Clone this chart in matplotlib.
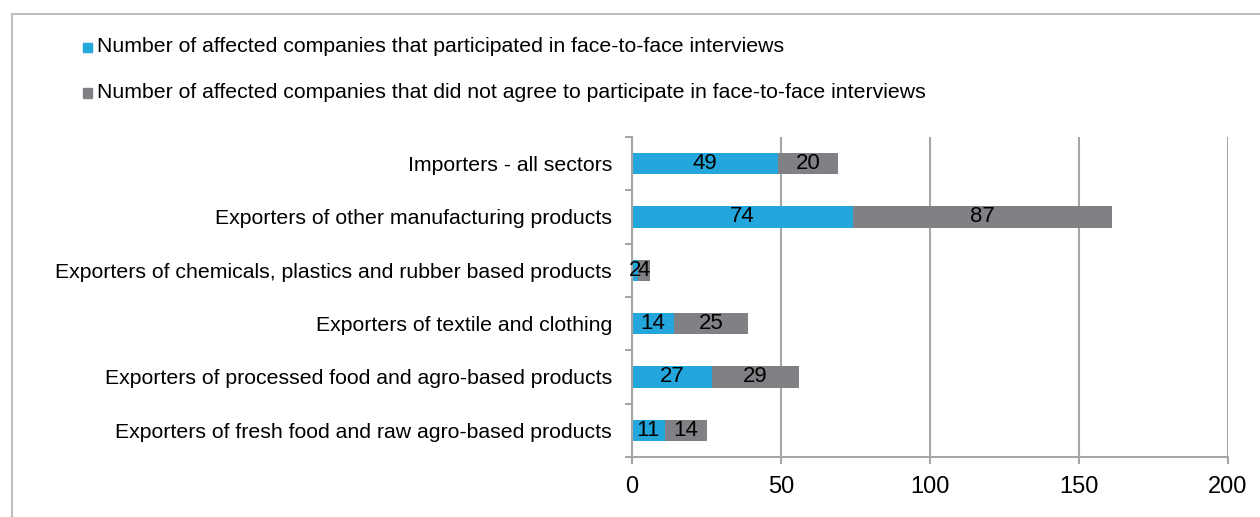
import matplotlib
matplotlib.use("Agg")
import matplotlib.pyplot as plt
from matplotlib.patches import Rectangle
from matplotlib.lines import Line2D

categories = [
    "Importers - all sectors",
    "Exporters of other manufacturing products",
    "Exporters of chemicals, plastics and rubber based products",
    "Exporters of textile and clothing",
    "Exporters of processed food and agro-based products",
    "Exporters of fresh food and raw agro-based products",
]
participated = [49, 74, 2, 14, 27, 11]
not_agreed = [20, 87, 4, 25, 29, 14]
series_names = [
    "Number of affected companies that participated in face-to-face interviews",
    "Number of affected companies that did not agree to participate in face-to-face interviews",
]
xticks = [0, 50, 100, 150, 200]

blue = "#23A6DC"
grey = "#808184"
axc = "#A6A6A6"

plt.rcParams['font.family'] = ['Liberation Sans', 'DejaVu Sans']
fs = 15.3

fig = plt.figure(figsize=(12.6, 5.17), dpi=100)
ax = fig.add_axes([632/1260, 1-457/517, (1228-632)/1260, (457-137)/517])

n = len(categories)
ypos = list(range(n))[::-1]
b1 = ax.barh(ypos, participated, height=0.4, color=blue, label=series_names[0])
b2 = ax.barh(ypos, not_agreed, left=participated, height=0.4, color=grey, label=series_names[1])
for y, a, b in zip(ypos, participated, not_agreed):
    ax.text(a/2, y, str(a), ha='center', va='center', fontsize=16, color='black')
    ax.text(a + b/2, y, str(b), ha='center', va='center', fontsize=16, color='black')

ax.set_xlim(0, 200)
ax.set_ylim(-0.5, n-0.5)
ax.set_xticks(xticks)
ax.set_xticklabels([str(t) for t in xticks], fontsize=17)
ax.set_yticks(ypos)
ax.set_yticklabels(categories, fontsize=fs)
ax.tick_params(axis='y', length=0, pad=14.4)
ax.set_yticks([i - 0.5 for i in range(n+1)], minor=True)
ax.tick_params(axis='y', which='minor', length=5, color=axc, width=1.5)
ax.tick_params(axis='x', length=5, color=axc, width=1.5, pad=9)
ax.grid(axis='x', color=axc, linewidth=1.5)
ax.set_axisbelow(True)
for s in ['top', 'right']:
    ax.spines[s].set_visible(False)
for s in ['left', 'bottom']:
    ax.spines[s].set_color(axc)
    ax.spines[s].set_linewidth(1.5)

# legend entries
for i, (name, col) in enumerate(zip(series_names, [blue, grey])):
    yy = 1 - (47 + 46*i)/517
    fig.patches.append(Rectangle((83/1260, yy - 4.5/517), 9/1260, 9/517, transform=fig.transFigure, color=col))
    fig.text(97/1260, yy, name, fontsize=fs, va='center', ha='left')

# outer chart-area border (top and left visible, others cut off)
bc = '#BEBEC2'
fig.lines.append(Line2D([12/1260, 1], [1-14/517, 1-14/517], transform=fig.transFigure, color=bc, linewidth=1.5))
fig.lines.append(Line2D([12/1260, 12/1260], [0, 1-14/517], transform=fig.transFigure, color=bc, linewidth=1.5))

fig.savefig("out.png", dpi=100)
